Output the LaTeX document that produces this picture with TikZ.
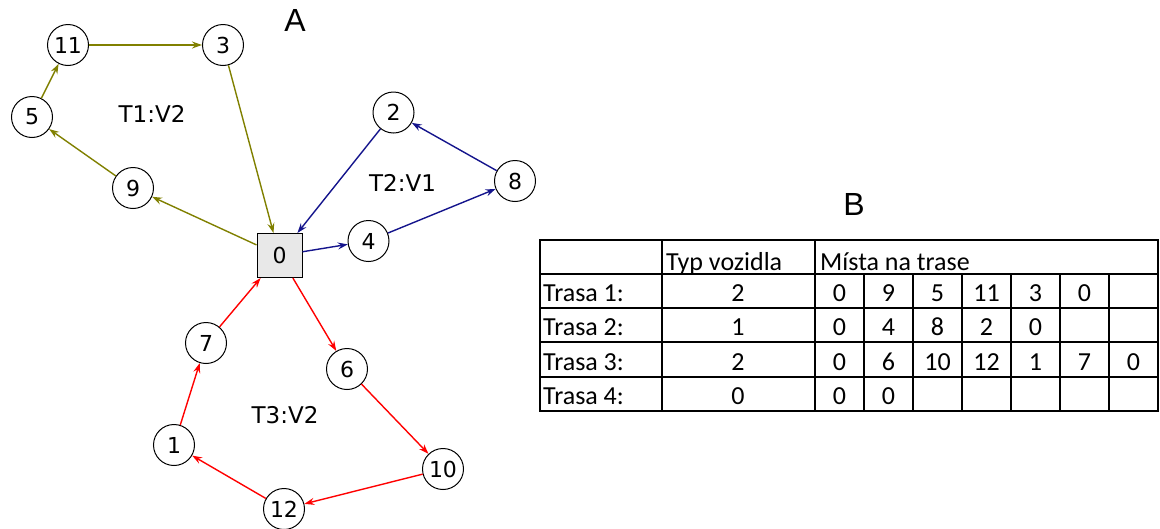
\documentclass[tikz,border=0pt]{standalone}
\usepackage{fontspec}
\setmainfont{DejaVu Sans}
\newfontfamily\tabfont{Carlito}
\newfontfamily\labfont{Liberation Sans}
\usetikzlibrary{arrows.meta}
\definecolor{olivec}{RGB}{128,128,0}
\definecolor{bluec}{RGB}{20,20,140}
\definecolor{redc}{RGB}{255,0,0}
\definecolor{depotfill}{RGB}{232,232,232}
\begin{document}
\begin{tikzpicture}[x=1pt,y=-1pt,
  vtx/.style={circle,draw=black,line width=1pt,minimum size=41pt,inner sep=0pt,fill=white,font=\fontsize{22}{22}\selectfont},
  depot/.style={rectangle,draw=black,line width=1pt,fill=depotfill,minimum width=45pt,minimum height=44pt,inner sep=0pt,font=\fontsize{22}{22}\selectfont},
  arr/.style={line width=1.4pt,-{Stealth[length=10pt,width=7pt,inset=3.5pt]}},
  ol/.style={arr,draw=olivec,color=olivec},
  bl/.style={arr,draw=bluec,color=bluec},
  rd/.style={arr,draw=redc,color=redc},
  tlabel/.style={font=\fontsize{23}{23}\selectfont,inner sep=0pt},
  panel/.style={font=\labfont\fontsize{32}{32}\selectfont,inner sep=0pt},
  cell/.style={font=\tabfont\fontsize{26}{26}\selectfont,inner sep=0pt,anchor=base},
  lcell/.style={cell,anchor=base west},
  grid/.style={line width=1.7pt,line cap=rect}
]
\useasboundingbox (0,0) rectangle (1160,528);

% panel labels
\node[panel] (A) at (295,20) {A};
\node[panel] (B) at (854,204) {B};

% vertices
\node[depot] (v0) at (279.5,255.5) {0};
\node[vtx] (v11) at (68,45) {11};
\node[vtx] (v3) at (223,45) {3};
\node[vtx] (v5) at (32,117) {5};
\node[vtx] (v9) at (133,188) {9};
\node[vtx] (v2) at (393.5,112.5) {2};
\node[vtx] (v8) at (515,181) {8};
\node[vtx] (v4) at (368.5,241) {4};
\node[vtx] (v7) at (206,343) {7};
\node[vtx] (v6) at (347,369) {6};
\node[vtx] (v1) at (174,445) {1};
\node[vtx] (v10) at (443,469) {10};
\node[vtx] (v12) at (284,509) {12};

% route labels
\node[tlabel] (T1) at (152,114) {T1:V2};
\node[tlabel] (T2) at (402.5,183) {T2:V1};
\node[tlabel] (T3) at (285,415) {T3:V2};

% route 1 (olive)
\draw[ol] (v0) -- (v9);
\draw[ol] (v9) -- (v5);
\draw[ol] (v5) -- (v11);
\draw[ol] (v11) -- (v3);
\draw[ol] (v3) -- (v0);
% route 2 (blue)
\draw[bl] (v0) -- (v4);
\draw[bl] (v4) -- (v8);
\draw[bl] (v8) -- (v2);
\draw[bl] (v2) -- (v0);
% route 3 (red)
\draw[rd] (v0) -- (v6);
\draw[rd] (v6) -- (v10);
\draw[rd] (v10) -- (v12);
\draw[rd] (v12) -- (v1);
\draw[rd] (v1) -- (v7);
\draw[rd] (v7) -- (v0);

% table grid
\foreach \yy in {240,274,308,342,377,411}
  \draw[grid] (540,\yy) -- (1158,\yy);
\foreach \xx in {540,662,815,1158}
  \draw[grid] (\xx,240) -- (\xx,411);
\foreach \xx in {864,913,962,1011,1060,1109}
  \draw[grid] (\xx,274) -- (\xx,411);

% table header
\node[lcell] (hType) at (666,270) {Typ vozidla};
\node[lcell] (hPlaces) at (820,270) {Místa na trase};

% row labels and types
\node[lcell] (r1) at (543,301) {Trasa 1:};
\node[lcell] (r2) at (543,335) {Trasa 2:};
\node[lcell] (r3) at (543,370) {Trasa 3:};
\node[lcell] (r4) at (543,404) {Trasa 4:};
\node[cell] (t1) at (738,301) {2};
\node[cell] (t2) at (738,335) {1};
\node[cell] (t3) at (738,370) {2};
\node[cell] (t4) at (738,404) {0};

% places
\foreach \v [count=\c] in {0,9,5,11,3,0}
  \node[cell] (p1-\c) at ({815+49*(\c-0.5)},301) {\v};
\foreach \v [count=\c] in {0,4,8,2,0}
  \node[cell] (p2-\c) at ({815+49*(\c-0.5)},335) {\v};
\foreach \v [count=\c] in {0,6,10,12,1,7,0}
  \node[cell] (p3-\c) at ({815+49*(\c-0.5)},370) {\v};
\foreach \v [count=\c] in {0,0}
  \node[cell] (p4-\c) at ({815+49*(\c-0.5)},404) {\v};
\end{tikzpicture}
\end{document}
